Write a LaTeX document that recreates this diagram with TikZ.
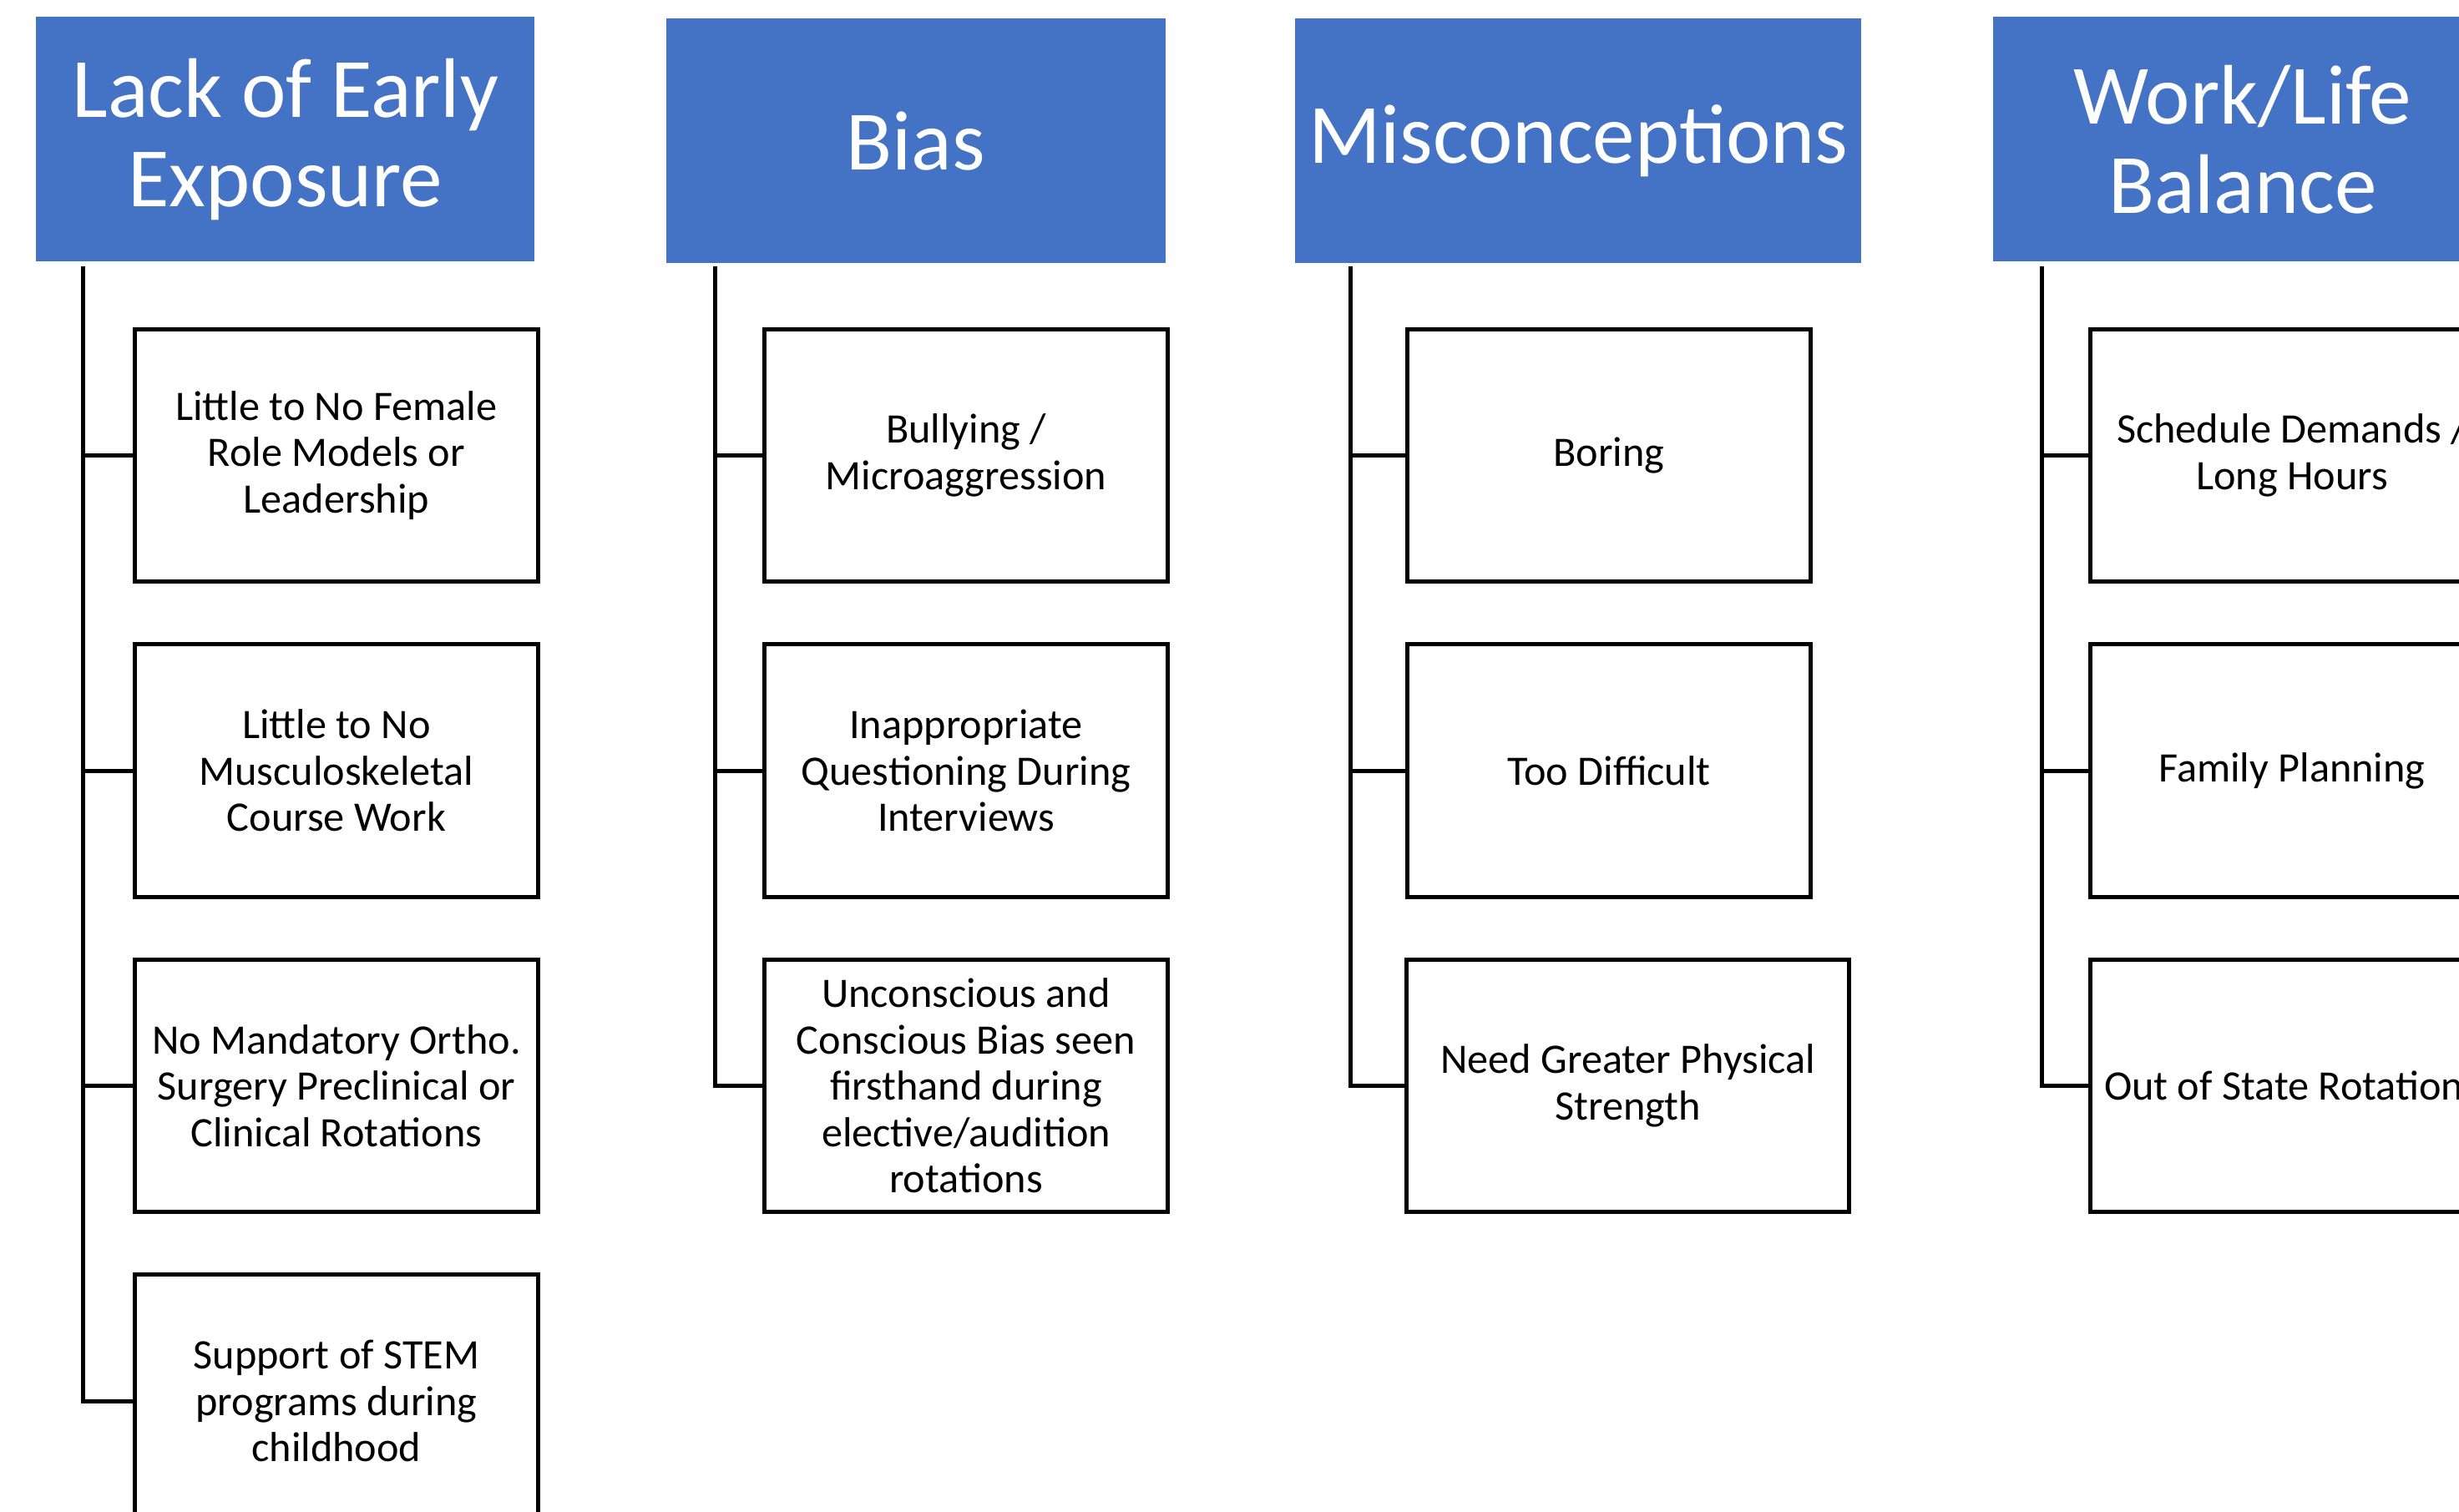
\documentclass[tikz,border=0pt]{standalone}
\usepackage{fontspec}
\setmainfont{Carlito}
\usepackage{tikz}
\usetikzlibrary{calc}
\usepackage{xcolor}
\definecolor{headblue}{RGB}{68,114,196}

\begin{document}
\begin{tikzpicture}[
    header/.style={fill=headblue, text=white, align=center, minimum width=5.973cm, minimum height=2.93cm, inner sep=0pt, font=\fontsize{28.8}{30.5}\selectfont},
    item/.style={draw, line width=1.4pt, fill=white, align=center, minimum width=4.827cm, minimum height=3.024cm, inner sep=2pt, font=\fontsize{14.3}{15.8}\selectfont},
    branch/.style={line width=1.4pt}
]
    \useasboundingbox (0,0) rectangle (29.45,-18.11);
    \clip (0,0) rectangle (29.45,-18.11);

    % headers
    \node[header] (lack) at (3.418,-1.670) {Lack of Early \\ Exposure};
    \node[header] (bias) at (10.969,-1.690) {Bias};
    \node[header, minimum width=6.78cm] (misc) at (18.904,-1.690) {Misconceptions};
    \node[header] (work) at (26.858,-1.670) {Work/Life \\ Balance};

    % trunk tops
    \coordinate (tlack) at (0.995,-3.19);
    \coordinate (tbias) at (8.565,-3.19);
    \coordinate (tmisc) at (16.171,-3.19);
    \coordinate (twork) at (24.454,-3.19);

    % Lack of Early Exposure
    \node[item] (lack1) at (4.029,-5.456) {Little to No Female \\ Role Models or \\ Leadership};
    \node[item] (lack2) at (4.029,-9.231) {Little to No \\ Musculoskeletal \\ Course Work};
    \node[item] (lack3) at (4.029,-13.006) {No Mandatory Ortho. \\ Surgery Preclinical or \\ Clinical Rotations};
    \node[item] (lack4) at (4.029,-16.781) {Support of STEM \\ programs during \\ childhood};

    % Bias
    \node[item] (bias1) at (11.570,-5.456) {Bullying / \\ Microaggression};
    \node[item] (bias2) at (11.570,-9.231) {Inappropriate \\ Questioning During \\ Interviews};
    \node[item] (bias3) at (11.570,-13.006) {Unconscious and \\ Conscious Bias seen \\ firsthand during \\ elective/audition \\ rotations};

    % Misconceptions
    \node[item] (misc1) at (19.270,-5.456) {Boring};
    \node[item] (misc2) at (19.270,-9.231) {Too Difficult};
    \node[item, minimum width=5.297cm] (misc3) at (19.496,-13.006) {Need Greater Physical \\ Strength};

    % Work/Life Balance
    \node[item] (work1) at (27.450,-5.456) {Schedule Demands / \\ Long Hours};
    \node[item] (work2) at (27.450,-9.231) {Family Planning};
    \node[item] (work3) at (27.450,-13.006) {Out of State Rotations};

    \foreach \n in {lack1,lack2,lack3,lack4}
        \draw[branch] (tlack) |- (\n.west);
    \foreach \n in {bias1,bias2,bias3}
        \draw[branch] (tbias) |- (\n.west);
    \foreach \n in {misc1,misc2,misc3}
        \draw[branch] (tmisc) |- (\n.west);
    \foreach \n in {work1,work2,work3}
        \draw[branch] (twork) |- (\n.west);
\end{tikzpicture}
\end{document}
